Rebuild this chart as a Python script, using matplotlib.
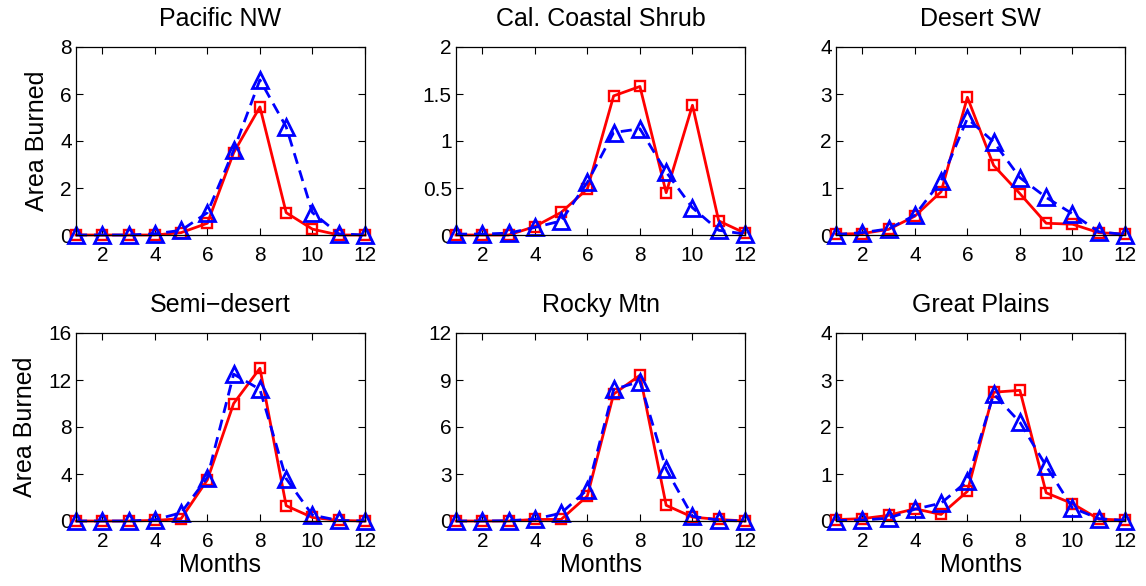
import numpy as np
import matplotlib.pyplot as plt

plt.rcParams['font.family'] = ['Liberation Sans', 'DejaVu Sans']

months = np.arange(1, 13)

titles = ['Pacific NW', 'Cal. Coastal Shrub', 'Desert SW',
          'Semi\u2212desert', 'Rocky Mtn', 'Great Plains']

# observed (red squares, solid)
obs_pacific = [0, 0, 0, 0, 0.1, 0.5, 3.5, 5.45, 0.95, 0.25, 0, 0]
obs_coastal = [0, 0, 0, 0.09, 0.24, 0.49, 1.48, 1.58, 0.45, 1.38, 0.15, 0.02]
obs_desert = [0.02, 0.03, 0.12, 0.4, 0.92, 2.93, 1.48, 0.88, 0.25, 0.23, 0.05, 0.02]
obs_semi = [0, 0, 0, 0.05, 0.2, 3.5, 10, 13, 1.3, 0.3, 0.05, 0]
obs_rocky = [0, 0, 0, 0.1, 0.1, 1.6, 8.1, 9.3, 1.0, 0.25, 0.1, 0]
obs_plains = [0.03, 0.05, 0.12, 0.26, 0.14, 0.63, 2.74, 2.78, 0.6, 0.37, 0.04, 0.02]

# model (blue triangles, dashed)
mod_pacific = [0, 0, 0, 0.05, 0.2, 0.95, 3.6, 6.6, 4.6, 0.95, 0.05, 0]
mod_coastal = [0.01, 0.01, 0.02, 0.08, 0.15, 0.56, 1.09, 1.13, 0.67, 0.29, 0.05, 0.01]
mod_desert = [0.01, 0.05, 0.13, 0.42, 1.15, 2.48, 1.98, 1.22, 0.8, 0.45, 0.07, 0.01]
mod_semi = [0, 0, 0, 0.1, 0.7, 3.7, 12.5, 11.2, 3.6, 0.5, 0.05, 0]
mod_rocky = [0, 0, 0.02, 0.12, 0.5, 2.0, 8.4, 8.9, 3.3, 0.3, 0.05, 0]
mod_plains = [0.01, 0.02, 0.06, 0.25, 0.38, 0.85, 2.7, 2.1, 1.17, 0.28, 0.05, 0.01]

obs = [obs_pacific, obs_coastal, obs_desert, obs_semi, obs_rocky, obs_plains]
mod = [mod_pacific, mod_coastal, mod_desert, mod_semi, mod_rocky, mod_plains]

yticks = [[0, 2, 4, 6, 8], [0, 0.5, 1, 1.5, 2], [0, 1, 2, 3, 4],
          [0, 4, 8, 12, 16], [0, 3, 6, 9, 12], [0, 1, 2, 3, 4]]
ytick_labels = [['0', '2', '4', '6', '8'], ['0', '0.5', '1', '1.5', '2'],
                ['0', '1', '2', '3', '4'], ['0', '4', '8', '12', '16'],
                ['0', '3', '6', '9', '12'], ['0', '1', '2', '3', '4']]

fig = plt.figure(figsize=(11.46, 5.86), dpi=100)
W, H = 1146, 586
lefts = [76, 456, 836]
tops = [47, 333]
aw, ah = 289, 188

for k in range(6):
    r, c = divmod(k, 3)
    ax = fig.add_axes([lefts[c] / W, 1 - (tops[r] + ah) / H, aw / W, ah / H])
    ax.plot(months, obs[k], color='red', lw=2, marker='s', ms=7.5,
            mfc='none', mec='red', mew=1.7)
    ax.plot(months, mod[k], color='blue', lw=2, ls=(0, (4, 2.5)), marker='^', ms=11,
            mfc='none', mec='blue', mew=2)
    ax.set_xlim(1, 12)
    ax.set_ylim(yticks[k][0], yticks[k][-1])
    ax.set_xticks([2, 4, 6, 8, 10, 12])
    ax.set_yticks(yticks[k])
    ax.set_yticklabels(ytick_labels[k])
    ax.tick_params(direction='in', top=True, right=True, labelsize=15,
                   length=5, width=0.8)
    ax.tick_params(axis='x', pad=8)
    ax.tick_params(axis='y', pad=3)
    for s in ax.spines.values():
        s.set_linewidth(0.9)
    ax.set_title(titles[k], fontsize=18, pad=15)
    if c == 0:
        ax.set_ylabel('Area Burned', fontsize=18, labelpad=8)
    if r == 1:
        ax.set_xlabel('Months', fontsize=18, labelpad=1)
    for line in ax.lines:
        line.set_clip_on(False)

fig.savefig('out.png', dpi=100)
